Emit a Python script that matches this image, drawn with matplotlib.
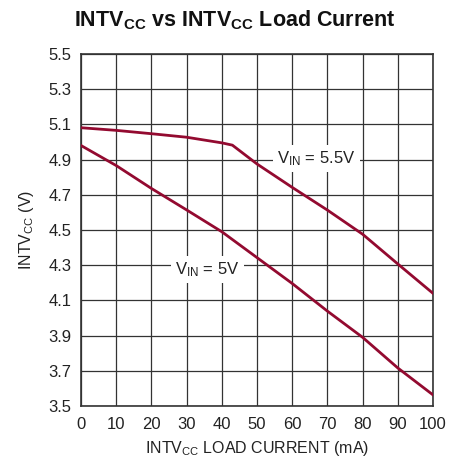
import numpy as np
import matplotlib
matplotlib.use("Agg")
from matplotlib import pyplot as plt

plt.rcParams['font.family'] = ['Liberation Sans', 'DejaVu Sans']
plt.rcParams['mathtext.default'] = 'regular'

# load current (mA) and INTVcc (V)
current = [0, 10, 20, 30, 40, 43, 50, 60, 70, 80, 90, 100]
vin_55 = [5.081, 5.066, 5.047, 5.027, 4.995, 4.982, 4.875, 4.742, 4.613, 4.476, 4.307, 4.14]
current_5 = [0, 10, 20, 30, 40, 50, 60, 70, 80, 90, 100]
vin_5 = [4.98, 4.866, 4.736, 4.614, 4.49, 4.343, 4.196, 4.039, 3.89, 3.716, 3.563]

xticks = np.arange(0, 101, 10)
yticks = np.round(np.arange(3.5, 5.51, 0.2), 1)

red = '#930a30'

fig = plt.figure(figsize=(4.64, 4.59), dpi=100)
ax = fig.add_axes([0.1746, 0.1155, 0.7586, 0.7669])

ax.plot(current, vin_55, color=red, lw=2.0, zorder=3)
ax.plot(current_5, vin_5, color=red, lw=2.0, zorder=3)

ax.set_xlim(0, 100)
ax.set_ylim(3.5, 5.5)
ax.set_xticks(xticks)
ax.set_yticks(yticks)
ax.set_yticklabels(['%.1f' % v for v in yticks])
ax.tick_params(length=0, labelsize=12, colors='#222222', pad=7)
ax.tick_params(axis='x', pad=8)
ax.grid(True, color='#333333', lw=0.9)
for s in ax.spines.values():
    s.set_color('#333333')
    s.set_linewidth(1.2)

ax.text(66.8, 4.905, r'V$_{IN}$ = 5.5V', fontsize=12, ha='center', va='center',
        color='#222222', zorder=4,
        bbox=dict(facecolor='white', edgecolor='none', pad=3))
ax.text(36, 4.276, r'V$_{IN}$ = 5V', fontsize=12, ha='center', va='center',
        color='#222222', zorder=4,
        bbox=dict(facecolor='white', edgecolor='none', pad=3))

ax.set_xlabel(r'INTV$_{CC}$ LOAD CURRENT (mA)', fontsize=11.5, color='#222222', labelpad=5)
ax.set_ylabel(r'INTV$_{CC}$ (V)', fontsize=11.5, color='#222222', labelpad=9)
fig.text(0.507, 0.955, r'INTV$_{CC}$ vs INTV$_{CC}$ Load Current', fontsize=15.5,
         fontweight='bold', ha='center', va='center', color='#111111')

fig.savefig('out.png', dpi=100)
